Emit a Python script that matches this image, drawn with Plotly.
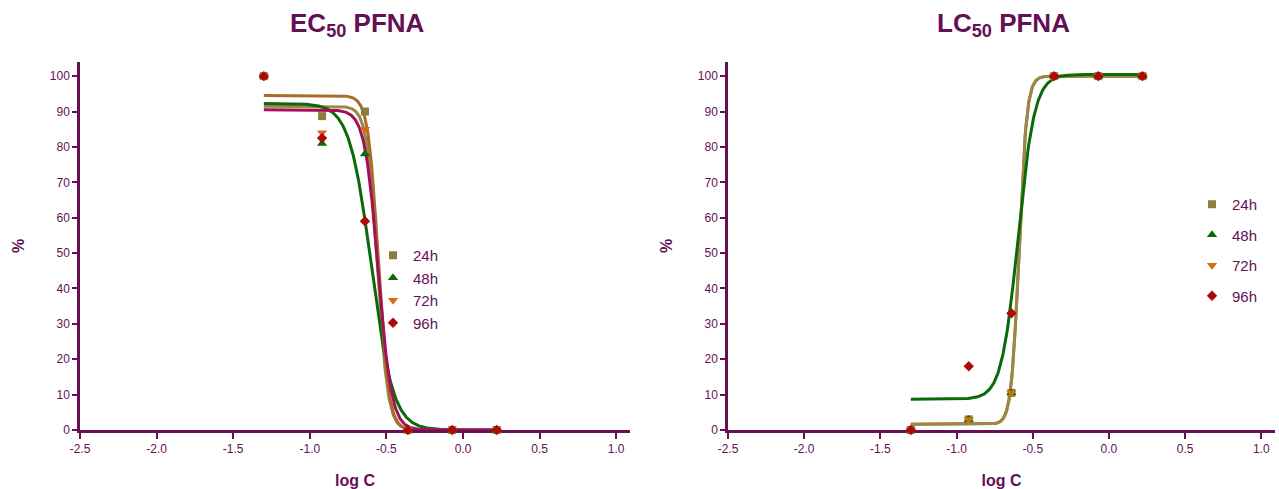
import numpy as np
import plotly.graph_objects as go

# Concentrations (log10) shared by both panels
log_c = [-1.30, -0.92, -0.64, -0.36, -0.07, 0.22]
hours = ["24h", "48h", "72h", "96h"]

# EC50 panel: % response per exposure time
ec_24h = [100, 88.7, 90, 0, 0, 0]
ec_48h = [100, 81, 78, 0, 0, 0]
ec_72h = [100, 84, 85, 0, 0, 0]
ec_96h = [100, 82.5, 59, 0, 0, 0]

# LC50 panel: % mortality per exposure time
lc_24h = [0, 3, 10.5, 100, 100, 100]
lc_48h = [0, 3, 10.5, 100, 100, 100]
lc_72h = [0, 3, 10.5, 100, 100, 100]
lc_96h = [0, 18, 33, 100, 100, 100]

# Fitted four-parameter logistic curves: bottom, top, logEC50, Hill slope
ec_fit_24h = [0, 91.5, -0.559, -12.6]
ec_fit_48h = [0, 92.3, -0.598, -6.1]
ec_fit_72h = [0, 94.5, -0.552, -13.0]
ec_fit_96h = [0, 90.5, -0.554, -10.0]

lc_fit_24h = [1.6, 100.0, -0.590, 17.0]
lc_fit_72h = [1.6, 100.0, -0.590, 17.0]
lc_fit_48h = [8.7, 100.5, -0.596, 8.0]

PURPLE = "#650f55"
FONT = "Liberation Sans, Arial, sans-serif"

W, H = 1279, 489
ML, MR, MT, MB = 80, 4, 62, 59
PW = W - ML - MR
PH = H - MT - MB

marker_style = {
    "24h": dict(symbol="square", size=8, color="#8e7d3f"),
    "48h": dict(symbol="triangle-up", size=9, color="#0b6b0b"),
    "72h": dict(symbol="triangle-down", size=9, color="#d0700a"),
    "96h": dict(symbol="diamond", size=8, color="#b00808"),
}
curve_color = {"24h": "#9b8748", "48h": "#0a6a0a", "72h": "#a86e28", "96h": "#a3105a"}


def logistic(x, p):
    bottom, top, x50, hill = p
    return bottom + (top - bottom) / (1 + 10 ** ((x50 - x) * hill))


def px_x(px):
    return (px - ML) / PW


def px_y(py):
    return (H - MB - py) / PH


x_fit = np.linspace(log_c[0], log_c[-1], 400)

fig = go.Figure()

# ---- curves ----
ec_fits = {"24h": ec_fit_24h, "48h": ec_fit_48h, "72h": ec_fit_72h, "96h": ec_fit_96h}
for h in hours:
    fig.add_trace(go.Scatter(x=x_fit, y=logistic(x_fit, ec_fits[h]), mode="lines",
                             line=dict(color=curve_color[h], width=3),
                             xaxis="x", yaxis="y", showlegend=False, hoverinfo="skip"))

lc_fits = [("72h", lc_fit_72h), ("24h", lc_fit_24h), ("48h", lc_fit_48h)]
for h, p in lc_fits:
    fig.add_trace(go.Scatter(x=x_fit, y=logistic(x_fit, p), mode="lines",
                             line=dict(color=curve_color[h], width=3),
                             xaxis="x2", yaxis="y2", showlegend=False, hoverinfo="skip"))

# ---- data points ----
ec_data = {"24h": ec_24h, "48h": ec_48h, "72h": ec_72h, "96h": ec_96h}
lc_data = {"24h": lc_24h, "48h": lc_48h, "72h": lc_72h, "96h": lc_96h}
for h in hours:
    fig.add_trace(go.Scatter(x=log_c, y=ec_data[h], mode="markers", name=h,
                             marker=marker_style[h], cliponaxis=False,
                             xaxis="x", yaxis="y", legend="legend",
                             legendgroup="a" + h))
for h in hours:
    fig.add_trace(go.Scatter(x=log_c, y=lc_data[h], mode="markers", name=h,
                             marker=marker_style[h], cliponaxis=False,
                             xaxis="x2", yaxis="y2", legend="legend2",
                             legendgroup="b" + h))

axis_common = dict(
    showline=True, linecolor=PURPLE, linewidth=2.5, showgrid=False, zeroline=False,
    ticks="outside", tickcolor=PURPLE, tickwidth=2, ticklen=6, automargin=False,
    tickfont=dict(family=FONT, size=12, color=PURPLE), layer="below traces",
)
x_common = dict(axis_common, range=[-2.5, 1.09], tickvals=[-2.5, -2.0, -1.5, -1.0, -0.5, 0.0, 0.5, 1.0],
                ticktext=["-2.5", "-2.0", "-1.5", "-1.0", "-0.5", "0.0", "0.5", "1.0"],
                title=dict(text="<b>log C</b>", font=dict(family=FONT, size=16, color=PURPLE), standoff=22))
y_common = dict(axis_common, range=[0, 104], tickvals=list(range(0, 101, 10)), ticklen=5,
                title=dict(text="<b>%</b>", font=dict(family=FONT, size=16, color=PURPLE), standoff=22))

legend_common = dict(font=dict(family=FONT, size=15, color=PURPLE), bgcolor="rgba(0,0,0,0)",
                     xanchor="left", yanchor="top", itemclick=False)

fig.update_layout(
    width=W, height=H,
    margin=dict(l=ML, r=MR, t=MT, b=MB),
    paper_bgcolor="white", plot_bgcolor="white",
    xaxis=dict(x_common, domain=[0, px_x(630)], anchor="y"),
    yaxis=dict(y_common, domain=[0, 1], anchor="x"),
    xaxis2=dict(x_common, domain=[px_x(728), 1], anchor="y2"),
    yaxis2=dict(y_common, domain=[0, 1], anchor="x2"),
    legend=dict(legend_common, x=px_x(373), y=px_y(239), tracegroupgap=0),
    legend2=dict(legend_common, x=px_x(1192), y=px_y(188), tracegroupgap=8),
    annotations=[
        dict(text="<b>EC<sub>50</sub> PFNA</b>", x=px_x(357), y=px_y(6), xref="paper", yref="paper",
             xanchor="center", yanchor="top", showarrow=False,
             font=dict(family=FONT, size=26, color=PURPLE)),
        dict(text="<b>LC<sub>50</sub> PFNA</b>", x=px_x(1003), y=px_y(6), xref="paper", yref="paper",
             xanchor="center", yanchor="top", showarrow=False,
             font=dict(family=FONT, size=26, color=PURPLE)),
    ],
)

fig.write_html("out.html")
